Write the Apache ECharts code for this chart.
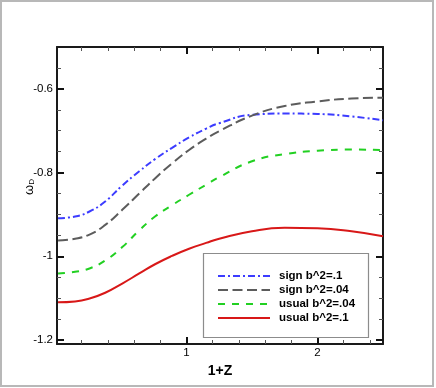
<!DOCTYPE html>
<html>
<head>
<meta charset="UTF-8">
<title>omega_D vs 1+Z</title>
<script src="https://cdn.jsdelivr.net/npm/echarts@6/dist/echarts.min.js"></script>
<style>
    html,body{margin:0;padding:0;background:#fff;}
    #chart{width:436px;height:388px;}
</style>
</head>
<body>
<div id="chart"></div>
<script>
    // data
    var xs = [0.02, 0.15, 0.26, 0.38, 0.51, 0.64, 0.76, 0.89, 1.02, 1.15, 1.25, 1.5, 1.75, 2.0, 2.26, 2.5];
    var signB1   = [-0.909, -0.905, -0.893, -0.869, -0.831, -0.797, -0.768, -0.741, -0.716, -0.695, -0.682, -0.662, -0.659, -0.660, -0.666, -0.675];
    var signB04  = [-0.962, -0.958, -0.948, -0.925, -0.889, -0.850, -0.814, -0.778, -0.746, -0.719, -0.701, -0.664, -0.641, -0.630, -0.623, -0.621];
    var usualB04 = [-1.041, -1.037, -1.029, -1.010, -0.978, -0.938, -0.905, -0.878, -0.853, -0.829, -0.811, -0.773, -0.756, -0.748, -0.745, -0.746];
    var usualB1  = [-1.110, -1.108, -1.101, -1.087, -1.065, -1.041, -1.019, -0.999, -0.982, -0.968, -0.958, -0.940, -0.932, -0.933, -0.940, -0.952];
    var names = ['sign b^2=.1', 'sign b^2=.04', 'usual b^2=.04', 'usual b^2=.1'];

    var xMajor = [1, 2];
    var xMinor = [0.2, 0.4, 0.6, 0.8, 1.2, 1.4, 1.6, 1.8, 2.2, 2.4];
    var yMajor = [-1.2, -1, -0.8, -0.6];
    var yMinor = [-1.15, -1.1, -1.05, -0.95, -0.9, -0.85, -0.75, -0.7, -0.65, -0.55];

    var font = 'Liberation Sans, Arial, sans-serif';
    var X_MIN = 0.012, X_MAX = 2.5, Y_MIN = -1.2095, Y_MAX = -0.5;

    function pairs(ys) {
        return xs.map(function (x, i) { return [x, ys[i]]; });
    }

    function xAx(pos, major, withLine) {
        return {
            type: 'value', position: pos, min: X_MIN, max: X_MAX,
            splitLine: {show: false},
            axisLine: {show: withLine, onZero: false, lineStyle: {color: '#1a1a1a', width: 2}},
            axisTick: {
                show: true, inside: true, length: major ? 7 : 4,
                customValues: major ? xMajor : xMinor,
                lineStyle: {color: major ? '#111' : '#555', width: major ? 2 : 1}
            },
            axisLabel: {
                show: pos === 'bottom' && major, customValues: xMajor, margin: 3,
                color: '#000', fontSize: 11.5, fontFamily: font
            },
            name: (pos === 'bottom' && major) ? '1+Z' : '',
            nameLocation: 'middle', nameGap: 13,
            nameTextStyle: {color: '#000', fontSize: 14, fontWeight: 'bold', fontFamily: font}
        };
    }

    function yAx(pos, major, withLine) {
        return {
            type: 'value', position: pos, min: Y_MIN, max: Y_MAX,
            splitLine: {show: false},
            axisLine: {show: withLine, onZero: false, lineStyle: {color: '#1a1a1a', width: 2}},
            axisTick: {
                show: true, inside: true, length: major ? 7 : 4,
                customValues: major ? yMajor : yMinor,
                lineStyle: {color: major ? '#111' : '#555', width: major ? 2 : 1}
            },
            axisLabel: {
                show: pos === 'left' && major, customValues: yMajor, margin: 4,
                color: '#000', fontSize: 11.5, fontFamily: font
            }
        };
    }

    var chart = echarts.init(document.getElementById('chart'));
    var option = {
        animation: false,
        backgroundColor: '#fff',
        grid: {left: 57, right: 53, top: 47, bottom: 44},
        xAxis: [xAx('bottom', true, true), xAx('bottom', false, false), xAx('top', true, true), xAx('top', false, false)],
        yAxis: [yAx('left', true, true), yAx('left', false, false), yAx('right', true, true), yAx('right', false, false)],
        graphic: [
            {type: 'rect', z: 0, shape: {x: 1, y: 1, width: 432, height: 385},
                style: {fill: 'none', stroke: '#b8b8b8', lineWidth: 2}},
            {type: 'rect', z: 1, shape: {x: 203.5, y: 253.5, width: 165, height: 84},
                style: {fill: '#fff', stroke: '#8c8c8c', lineWidth: 1.2}},
            {type: 'text', x: 29, y: 187, rotation: Math.PI / 2,
                style: {
                    text: '{a|ω}{b|D}', align: 'center', verticalAlign: 'middle',
                    rich: {
                        a: {fontSize: 13, fontFamily: font, fill: '#000'},
                        b: {fontSize: 8, fontFamily: font, fill: '#000', padding: [6, 0, 0, 0]}
                    }
                }}
        ],
        legend: {
            orient: 'vertical', left: 217, top: 269, padding: 0,
            itemWidth: 52, itemHeight: 14, itemGap: 0,
            itemStyle: {opacity: 0},
            data: names,
            textStyle: {color: '#000', fontSize: 11.5, fontWeight: 'bold', fontFamily: font, lineHeight: 14, padding: [0, 0, 0, 4]}
        },
        series: [
            {name: names[0], type: 'line', data: pairs(signB1), symbol: 'none', smooth: true,
                lineStyle: {color: '#3c3cff', width: 2, type: [7, 3, 2, 3]}, itemStyle: {color: '#3c3cff'}},
            {name: names[1], type: 'line', data: pairs(signB04), symbol: 'none', smooth: true,
                lineStyle: {color: '#5c5c5c', width: 2, type: [10, 4.5]}, itemStyle: {color: '#5c5c5c'}},
            {name: names[2], type: 'line', data: pairs(usualB04), symbol: 'none', smooth: true,
                lineStyle: {color: '#22d022', width: 2, type: [7, 7]}, itemStyle: {color: '#22d022'}},
            {name: names[3], type: 'line', data: pairs(usualB1), symbol: 'none', smooth: true,
                lineStyle: {color: '#d81818', width: 2}, itemStyle: {color: '#d81818'}}
        ]
    };
    chart.setOption(option);
</script>
</body>
</html>
